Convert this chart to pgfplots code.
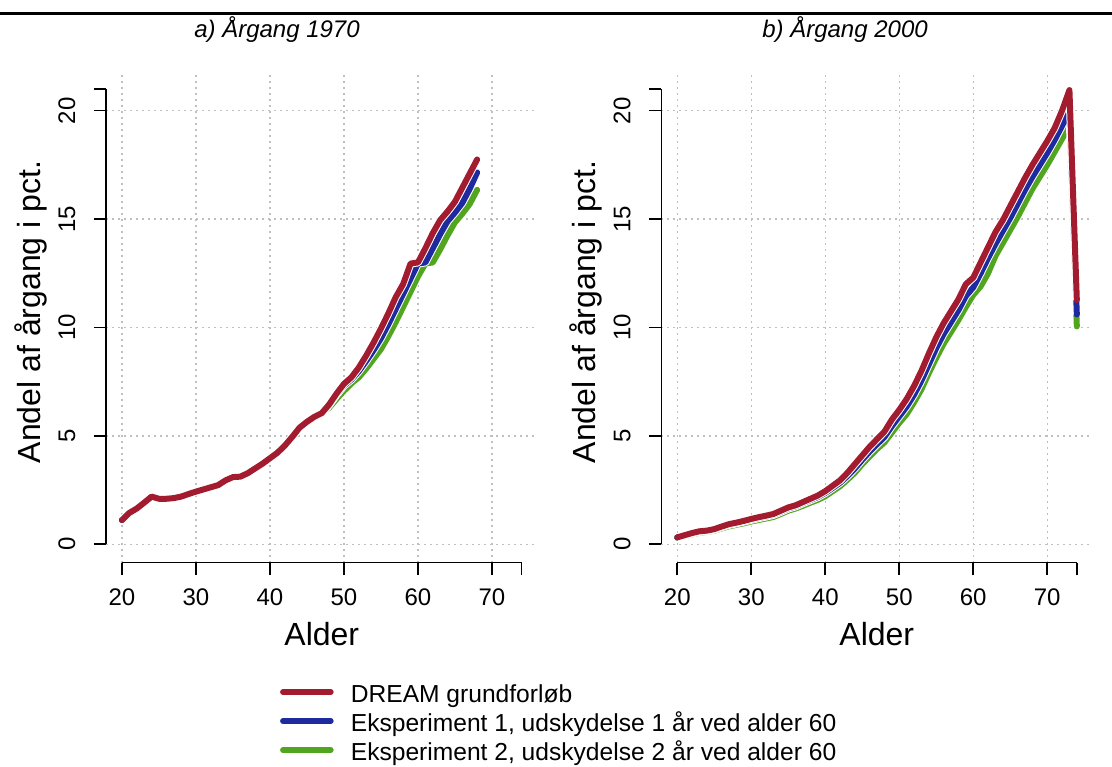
\documentclass[border=0pt]{standalone}
\usepackage{fontspec}
\setmainfont{Liberation Sans}
\usepackage{pgfplots}
\usepackage{pgfplotstable}
\pgfplotsset{compat=1.18}
\definecolor{cred}{RGB}{163,27,46}
\definecolor{cblue}{RGB}{30,42,160}
\definecolor{cgreen}{RGB}{82,165,30}

\pgfplotstableread{
age dream e1 e2
20 1.12 1.12 1.12
21 1.45 1.45 1.45
22 1.65 1.65 1.65
23 1.92 1.92 1.92
24 2.20 2.20 2.20
25 2.10 2.10 2.10
26 2.10 2.10 2.10
27 2.13 2.13 2.13
28 2.20 2.20 2.20
29 2.32 2.32 2.32
30 2.43 2.43 2.43
31 2.53 2.53 2.53
32 2.63 2.63 2.63
33 2.73 2.73 2.73
34 2.95 2.95 2.95
35 3.10 3.10 3.10
36 3.12 3.12 3.12
37 3.28 3.28 3.28
38 3.50 3.50 3.50
39 3.72 3.72 3.72
40 3.97 3.97 3.97
41 4.22 4.22 4.22
42 4.55 4.55 4.55
43 4.95 4.95 4.95
44 5.38 5.38 5.38
45 5.65 5.65 5.65
46 5.88 5.88 5.88
47 6.05 6.05 6.05
48 6.45 6.42 6.30
49 6.95 6.90 6.70
50 7.40 7.32 7.08
51 7.70 7.60 7.42
52 8.15 7.98 7.70
53 8.70 8.45 8.10
54 9.30 8.95 8.55
55 9.95 9.50 9.00
56 10.65 10.15 9.60
57 11.40 10.85 10.25
58 12.00 11.55 10.95
59 12.95 12.25 11.65
60 13.00 12.95 12.35
61 13.65 13.00 12.95
62 14.35 13.65 13.00
63 14.95 14.30 13.60
64 15.35 14.90 14.25
65 15.80 15.30 14.85
66 16.45 15.75 15.25
67 17.10 16.40 15.70
68 17.75 17.15 16.35
}\tabA

\pgfplotstableread{
age dream e1 e2
20 0.32 0.32 0.30
21 0.42 0.42 0.38
22 0.52 0.50 0.46
23 0.60 0.58 0.53
24 0.63 0.61 0.57
25 0.70 0.68 0.63
26 0.82 0.79 0.73
27 0.93 0.90 0.83
28 1.00 0.97 0.90
29 1.08 1.05 0.97
30 1.17 1.13 1.05
31 1.25 1.21 1.12
32 1.32 1.28 1.19
33 1.40 1.36 1.26
34 1.55 1.50 1.40
35 1.70 1.65 1.55
36 1.80 1.75 1.65
37 1.95 1.90 1.78
38 2.10 2.04 1.92
39 2.25 2.18 2.05
40 2.45 2.37 2.22
41 2.70 2.60 2.45
42 2.95 2.84 2.68
43 3.30 3.15 2.98
44 3.70 3.50 3.30
45 4.10 3.90 3.70
46 4.50 4.28 4.05
47 4.85 4.62 4.40
48 5.20 4.95 4.70
49 5.75 5.45 5.15
50 6.20 5.90 5.60
51 6.70 6.35 6.00
52 7.30 6.90 6.55
53 8.00 7.55 7.15
54 8.80 8.30 7.90
55 9.55 9.05 8.60
56 10.20 9.70 9.25
57 10.75 10.25 9.80
58 11.30 10.80 10.35
59 12.00 11.45 10.95
60 12.30 11.85 11.50
61 13.00 12.50 11.90
62 13.70 13.20 12.50
63 14.40 13.85 13.30
64 14.95 14.45 13.90
65 15.60 15.05 14.50
66 16.25 15.70 15.10
67 16.90 16.35 15.75
68 17.50 16.95 16.40
69 18.05 17.50 16.95
70 18.60 18.05 17.50
71 19.20 18.65 18.10
72 20.00 19.30 18.70
73 20.95 20.00 19.30
74 11.27 10.60 10.05
}\tabB

\pgfplotsset{
  panel/.style={
    scale only axis, width=431.5bp, height=491.7bp,
    xmin=17.84, xmax=76.16, ymin=-0.84, ymax=21.84,
    xtick={20,30,...,70}, ytick={0,5,...,20},
    extra x ticks={74}, extra x tick labels={},
    extra y ticks={21}, extra y tick labels={},
    extra tick style={grid=none},
    tick pos=left, tick align=outside, major tick length=12.5bp,
    tick style={black, line width=1.6bp},
    axis line style={draw=none},
    grid=major, grid style={black!25, line width=1.3bp, dash pattern=on 2bp off 4bp},
    ticklabel style={font=\fontsize{24bp}{28bp}\selectfont, inner sep=0pt},
    /pgf/number format/assume math mode=true,
    xticklabel shift=14bp, yticklabel shift=18bp,
    yticklabel style={rotate=90, anchor=south},
    xticklabel style={anchor=north},
    clip=false,
  },
  halo/.style={white, line width=8bp, line join=round, forget plot},
  ser/.style={line width=6bp, line join=round, line cap=round},
}

\begin{document}
\begin{tikzpicture}
\useasboundingbox (0,0) rectangle (1112bp,-767bp);
\draw[line width=3bp] (0,-13bp) -- (1112bp,-13bp);

\begin{axis}[panel, at={(106bp,-562.5bp)}, anchor=south west,
  legend style={at={(axis description cs:0.403,-0.249)}, anchor=north west,
    draw=none, fill=none, inner sep=0pt,
    font=\fontsize{24.6bp}{29bp}\selectfont, row sep=7bp,
    nodes={inner sep=0pt, text height=17bp, text depth=5bp},
    cells={anchor=west}},
  legend image code/.code={\draw[#1, line width=5.5bp] (0bp,4bp) -- (48bp,4bp); \path (65bp,4bp);},
  reverse legend]
\draw[line width=1.6bp] (axis cs:20,-0.84) -- (axis cs:74,-0.84);
\draw[line width=1.6bp] (axis cs:17.84,0) -- (axis cs:17.84,21);
\addplot[halo] table[x=age,y=e2] {\tabA};
\addplot[ser, cgreen] table[x=age,y=e2] {\tabA};
\addlegendentry{Eksperiment 2, udskydelse 2 år ved alder 60}
\addplot[halo] table[x=age,y=e1] {\tabA};
\addplot[ser, cblue] table[x=age,y=e1] {\tabA};
\addlegendentry{Eksperiment 1, udskydelse 1 år ved alder 60}
\addplot[halo] table[x=age,y=dream] {\tabA};
\addplot[ser, cred] table[x=age,y=dream] {\tabA};
\addlegendentry{DREAM grundforløb}
\end{axis}

\begin{axis}[panel, at={(661.3bp,-562.5bp)}, anchor=south west]
\draw[line width=1.6bp] (axis cs:20,-0.84) -- (axis cs:74,-0.84);
\draw[line width=1.6bp] (axis cs:17.84,0) -- (axis cs:17.84,21);
\addplot[halo] table[x=age,y=e2] {\tabB};
\addplot[ser, cgreen] table[x=age,y=e2] {\tabB};
\addplot[halo] table[x=age,y=e1] {\tabB};
\addplot[ser, cblue] table[x=age,y=e1] {\tabB};
\addplot[halo] table[x=age,y=dream] {\tabB};
\addplot[ser, cred] table[x=age,y=dream] {\tabB};
\end{axis}

\node[anchor=base, font=\fontsize{24bp}{28bp}\selectfont\itshape] at (277bp,-37bp) {a) Årgang 1970};
\node[anchor=base, font=\fontsize{24bp}{28bp}\selectfont\itshape] at (845bp,-37bp) {b) Årgang 2000};
\node[anchor=base, font=\fontsize{32bp}{38bp}\selectfont] at (321.8bp,-645bp) {Alder};
\node[anchor=base, font=\fontsize{32bp}{38bp}\selectfont] at (876.8bp,-645bp) {Alder};
\node[rotate=90, anchor=base, font=\fontsize{32bp}{38bp}\selectfont] at (40bp,-312bp) {Andel af årgang i pct.};
\node[rotate=90, anchor=base, font=\fontsize{32bp}{38bp}\selectfont] at (595bp,-312bp) {Andel af årgang i pct.};
\end{tikzpicture}
\end{document}
